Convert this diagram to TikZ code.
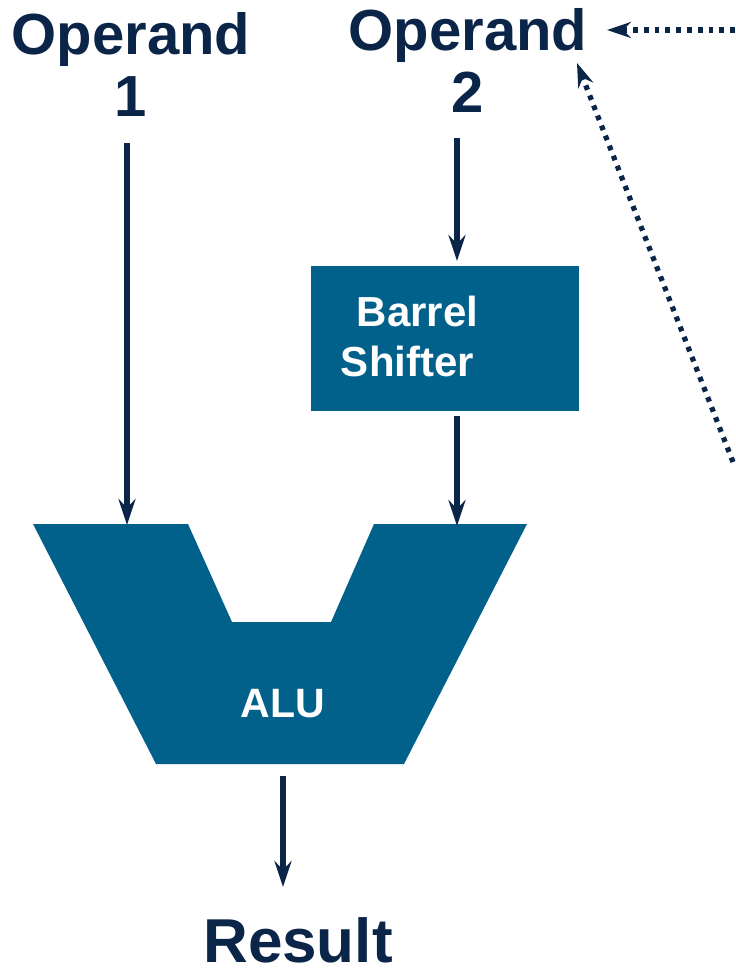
\documentclass[tikz,border=0pt]{standalone}
\usepackage{fontspec}
\setmainfont{Liberation Sans}
\usetikzlibrary{arrows.meta}
\definecolor{navy}{HTML}{0B2549}
\definecolor{boxblue}{HTML}{02618B}
\tikzset{
  flow/.style={draw=navy, line width=2.7pt, -{Stealth[length=13pt,width=8.5pt,inset=4.5pt]}},
  dotflow/.style={draw=navy, line width=2.6pt, dash pattern=on 2.4pt off 3pt, -{Stealth[length=12pt,width=8pt,inset=4pt]}},
  biglabel/.style={text=navy, font=\fontsize{29}{31}\selectfont\bfseries, align=center, inner sep=0pt},
  boxlabel/.style={text=white, font=\fontsize{21}{25}\selectfont\bfseries, align=center, inner sep=0pt},
  unit/.style={fill=boxblue, draw=none}
}
\begin{document}
\begin{tikzpicture}[x=0.5pt,y=-0.5pt]
\useasboundingbox (0,0) rectangle (735,968);
% labels
\node[biglabel] (op1) at (131,64) {Operand\\1};
\node[biglabel] (op2) at (468,60) {Operand\\2};
\node[biglabel, font=\fontsize{31}{33}\selectfont\bfseries, anchor=base] (res) at (298,962) {Result};
% barrel shifter
\node[unit, minimum width=134pt, minimum height=72.5pt, inner sep=0pt] (bs) at (445,338.5) {};
\node[boxlabel] (bstext) at (417.5,336) {Barrel\\Shifter\kern10pt};
% ALU
\path[unit] (33,524) -- (188,524) -- (232,622) -- (331,622) -- (374,524) -- (527,524) -- (404,764) -- (156,764) -- cycle;
\coordinate (aluin1) at (127,525);
\coordinate (aluin2) at (457,526);
\node[boxlabel, font=\fontsize{20.5}{24}\selectfont\bfseries, anchor=base] (alu) at (283,717) {ALU};
% arrows
\coordinate (op1s) at (127,143);
\coordinate (op2s) at (457,138);
\coordinate (bsin) at (457,261);
\coordinate (bsout) at (457,416);
\coordinate (alus) at (283,776);
\coordinate (resin) at (283,887);
\draw[flow] (op1s) -- (aluin1);
\draw[flow] (op2s) -- (bsin);
\draw[flow] (bsout) -- (aluin2);
\draw[flow] (alus) -- (resin);
% dotted feedback arrows
\coordinate (d1s) at (735,30);
\coordinate (d1e) at (607,30);
\coordinate (d2s) at (733,462);
\coordinate (d2e) at (577,63);
\draw[dotflow] (d1s) -- (d1e);
\draw[dotflow] (d2s) -- (d2e);
\end{tikzpicture}
\end{document}
